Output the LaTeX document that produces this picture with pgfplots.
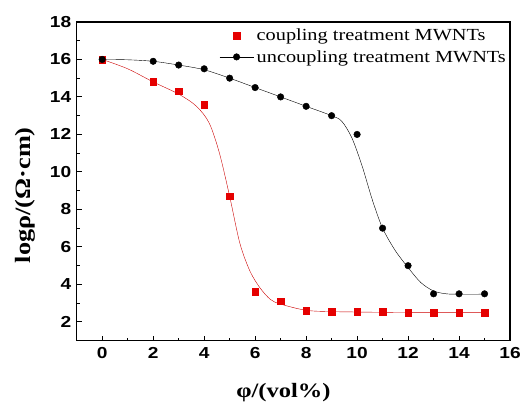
\documentclass[border=0pt]{standalone}
\usepackage{fontspec}
\setmainfont{Liberation Serif}[FakeStretch=1.2]
\newfontfamily\ticksf{Liberation Sans}[FakeStretch=1.2]
\newfontfamily\legfont{Liberation Serif}[FakeStretch=1.2]
\usepackage{pgfplots}
\pgfplotsset{compat=1.18}
\begin{document}
\begin{tikzpicture}
\begin{axis}[
  name=ax,
  scale only axis, width=435pt, height=320pt,
  xmin=-1, xmax=16, ymin=1, ymax=18,
  xtick={0,2,...,16}, ytick={2,4,...,18},
  minor x tick num=1, minor y tick num=1,
  tick pos=left, tick align=inside,
  major tick length=5pt, minor tick length=3pt,
  axis line style={line width=1.3pt}, every tick/.style={line width=1pt,black},
  /pgf/number format/assume math mode=true,
  ticklabel style={font=\ticksf\bfseries\fontsize{16}{16}\selectfont},
  xticklabel style={yshift=-3pt},
  yticklabel style={xshift=-2pt},
  xlabel={\bfseries φ/(vol\%)}, ylabel={\bfseries logρ/(Ω·cm)},
  xlabel style={font=\fontsize{20.5}{20.5}\selectfont, at={(rel axis cs:0.5,0)}, anchor=center, yshift=-52pt, xshift=-10pt},
  ylabel style={font=\fontsize{22}{22}\selectfont, at={(rel axis cs:0,0.5)}, anchor=center, yshift=52pt, xshift=-14pt},
  legend style={draw=none, fill=none, at={(rel axis cs:1,1)}, anchor=north east, xshift=0pt, yshift=-4pt, font=\legfont\fontsize{17}{19}\selectfont, row sep=4pt, inner sep=1pt, nodes={inner xsep=3pt}},
  legend cell align=left,
]
% fitted curves
\addplot[red!80!black, thin, smooth, forget plot] coordinates {(0,16) (1,15.5) (2,14.8) (3,14.15) (3.7,13.5) (4.2,12.6) (4.6,11.0) (5,8.7) (5.4,6.2) (5.8,4.7) (6.2,3.8) (6.6,3.2) (7,2.95) (8,2.62) (9,2.55) (10,2.53) (12,2.5) (15,2.5)};
\addplot[black, thin, smooth, forget plot] coordinates {(0,16) (1,15.98) (2,15.9) (3,15.7) (4,15.45) (5,15) (6,14.5) (7,14) (8,13.5) (9,13) (9.4,12.7) (9.8,11.8) (10.2,10.3) (10.6,8.5) (11,7) (11.5,5.8) (12,4.9) (12.5,4.1) (13,3.65) (13.5,3.5) (14,3.48) (15,3.48)};
\addplot[only marks, mark=square*, mark size=3.3pt, color=red!90!black,
  legend image code/.code={\fill[red!90!black] (17pt-3.3pt,-3.3pt) rectangle (17pt+3.3pt,3.3pt);}] coordinates {(0,16) (2,14.8) (3,14.3) (4,13.6) (5,8.7) (6,3.6) (7,3.1) (8,2.6) (9,2.55) (10,2.55) (11,2.55) (12,2.5) (13,2.5) (14,2.5) (15,2.5)};
\addlegendentry{coupling treatment MWNTs}
\addplot[only marks, mark=*, mark size=3.3pt, black,
  legend image code/.code={\draw[black,thin] (0pt,0pt) -- (34pt,0pt); \fill[black] (17pt,0pt) circle (3.3pt);}] coordinates {(0,16) (2,15.9) (3,15.7) (4,15.5) (5,15) (6,14.5) (7,14) (8,13.5) (9,13) (10,12) (11,7) (12,5) (13,3.5) (14,3.5) (15,3.5)};
\addlegendentry{uncoupling treatment MWNTs}
\end{axis}
\path[use as bounding box] ([shift={(-77pt,-65pt)}]ax.south west) rectangle ([shift={(12pt,22pt)}]ax.north east);
\end{tikzpicture}
\end{document}
